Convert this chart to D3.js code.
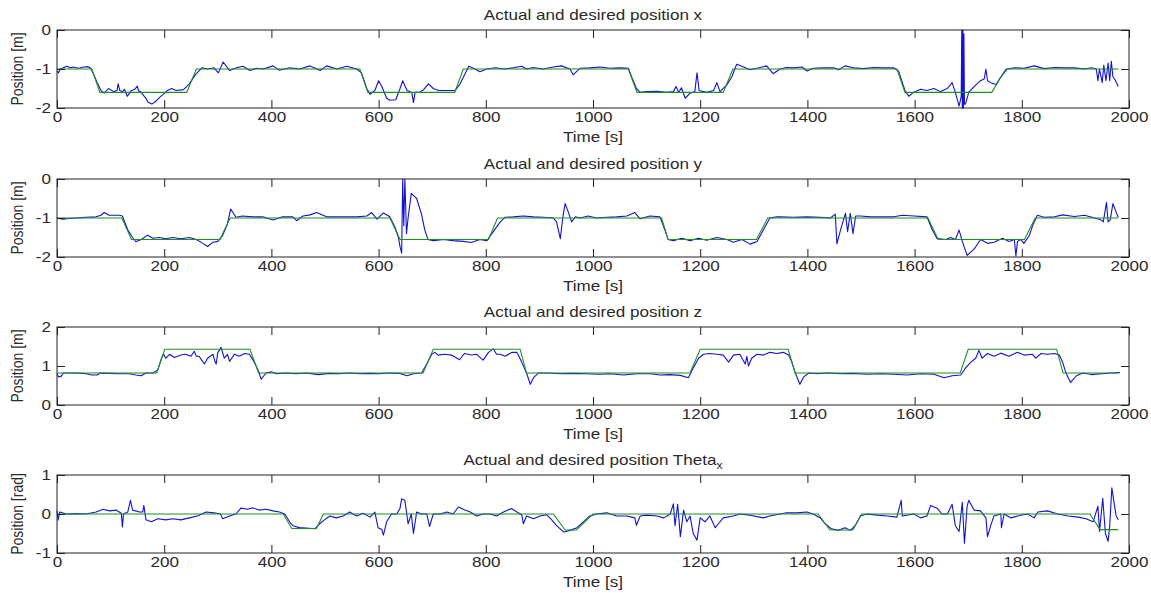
<!DOCTYPE html>
<html>
<head>
<meta charset="utf-8">
<script src="https://cdn.jsdelivr.net/npm/d3@7"></script>
<style>
body{margin:0;background:#fff}
text{font-family:"Liberation Sans",Arial,sans-serif;fill:#2a2a2a}
</style>
</head>
<body>
<script>
// tick labels of the shared time axis
var timeTicks=[0,200,400,600,800,1000,1200,1400,1600,1800,2000]

var titles=["Actual and desired position x","Actual and desired position y","Actual and desired position z","Actual and desired position Theta"]
var yLabels=["Position [m]","Position [m]","Position [m]","Position [rad]"]
var yDomains=[[-2,0],[-2,0],[0,2],[-1,1]]
var yTicks=[[0,-1,-2],[0,-1,-2],[0,1,2],[-1,0,1]]

// desired (green) trajectories, [time, value]
var desiredX=[[0,-1],[65,-1],[80,-1.6],[242,-1.6],[260,-1],[565,-1],[580,-1.6],[742,-1.6],[758,-1],[1066,-1],[1082,-1.6],[1243,-1.6],[1261,-1],[1567,-1],[1582,-1.6],[1744,-1.6],[1770,-1],[1980,-1]]
var desiredY=[[0,-1],[121,-1],[139,-1.55],[304,-1.55],[323,-1],[621,-1],[640,-1.55],[805,-1.55],[822,-1],[1128,-1],[1140,-1.55],[1305,-1.55],[1326,-1],[1625,-1],[1644,-1.55],[1805,-1.55],[1825,-1],[1980,-1]]
var desiredZ=[[0,0.82],[186,0.82],[201,1.43],[360,1.43],[376,0.82],[683,0.82],[702,1.43],[864,1.43],[876,0.82],[1181,0.82],[1200,1.43],[1364,1.43],[1377,0.82],[1685,0.82],[1700,1.43],[1865,1.43],[1877,0.82],[1980,0.82]]
var desiredTheta=[[0,0],[422,0],[438,-0.37],[484,-0.37],[497,0],[926,0],[948,-0.41],[969,-0.41],[1000,0],[1420,0],[1442,-0.41],[1485,-0.41],[1501,0],[1927,0],[1946,-0.4],[1980,-0.4]]

// actual (blue) trajectories, [time, value]
var actualX=[[0,-1.05],[3,-1.1],[6,-1.0],[12,-0.97],[18,-0.93],[25,-0.97],[30,-0.95],[40,-0.98],[50,-0.95],[58,-0.94],[63,-0.98],[68,-1.12],[75,-1.35],[82,-1.55],[88,-1.62],[96,-1.5],[106,-1.58],[112,-1.55],[114,-1.38],[117,-1.55],[122,-1.58],[126,-1.52],[131,-1.7],[139,-1.55],[145,-1.52],[150,-1.44],[152,-1.56],[156,-1.58],[164,-1.72],[170,-1.85],[177,-1.9],[185,-1.82],[192,-1.72],[198,-1.65],[206,-1.55],[214,-1.5],[222,-1.55],[236,-1.53],[247,-1.38],[258,-1.15],[270,-0.97],[281,-1.0],[293,-0.97],[301,-1.1],[310,-0.82],[322,-1.04],[335,-0.97],[347,-0.93],[360,-1.04],[372,-0.98],[385,-1.0],[403,-0.92],[415,-1.03],[434,-0.97],[453,-1.0],[472,-0.92],[491,-1.04],[503,-0.92],[522,-1.0],[541,-0.93],[559,-1.0],[568,-1.1],[578,-1.5],[584,-1.65],[593,-1.55],[600,-1.3],[606,-1.45],[615,-1.75],[621,-1.8],[632,-1.79],[640,-1.5],[645,-1.3],[653,-1.55],[662,-1.6],[665,-1.86],[668,-1.6],[676,-1.6],[684,-1.53],[693,-1.38],[702,-1.5],[712,-1.55],[727,-1.55],[743,-1.55],[752,-1.38],[762,-1.1],[768,-0.93],[777,-0.98],[789,-1.07],[802,-1.0],[818,-0.97],[833,-1.0],[851,-0.97],[867,-0.93],[876,-1.0],[889,-0.96],[907,-1.0],[926,-0.95],[941,-0.92],[957,-1.0],[963,-1.15],[976,-0.98],[994,-0.97],[1013,-0.95],[1032,-0.98],[1050,-0.97],[1066,-0.98],[1072,-1.2],[1081,-1.5],[1088,-1.6],[1100,-1.58],[1119,-1.57],[1138,-1.6],[1150,-1.58],[1155,-1.45],[1160,-1.6],[1165,-1.48],[1172,-1.75],[1181,-1.62],[1190,-1.58],[1194,-1.1],[1198,-1.55],[1212,-1.6],[1225,-1.55],[1231,-1.35],[1237,-1.58],[1250,-1.4],[1259,-1.2],[1268,-0.88],[1281,-0.95],[1293,-1.02],[1312,-0.96],[1324,-0.92],[1336,-1.12],[1349,-1.0],[1361,-0.96],[1374,-0.97],[1390,-0.95],[1399,-1.05],[1411,-0.98],[1430,-0.97],[1449,-0.97],[1458,-1.02],[1470,-0.92],[1486,-0.97],[1505,-0.99],[1523,-0.96],[1542,-0.97],[1561,-0.97],[1570,-1.05],[1576,-1.3],[1582,-1.55],[1589,-1.7],[1598,-1.6],[1611,-1.52],[1623,-1.55],[1636,-1.5],[1648,-1.58],[1661,-1.5],[1670,-1.35],[1676,-1.6],[1683,-1.95],[1687,-1.7],[1688,0],[1689,-2],[1690,0],[1691,-2],[1692,-0.1],[1693,-1.9],[1695,-1.9],[1701,-1.6],[1711,-1.45],[1723,-1.3],[1730,-1.25],[1733,-1.0],[1736,-1.3],[1742,-1.35],[1752,-1.4],[1761,-1.2],[1773,-1.0],[1786,-0.97],[1804,-0.98],[1823,-0.92],[1842,-0.99],[1861,-0.96],[1880,-0.97],[1898,-0.97],[1917,-1.0],[1930,-0.97],[1939,-1.0],[1942,-1.3],[1945,-1.0],[1950,-1.35],[1953,-0.9],[1957,-1.3],[1961,-0.85],[1964,-1.3],[1967,-0.8],[1970,-1.2],[1975,-1.3],[1980,-1.45]]
var actualY=[[0,-1.0],[10,-1.03],[18,-1.02],[36,-1.0],[54,-0.98],[73,-0.97],[82,-0.93],[88,-0.86],[97,-0.93],[116,-0.93],[122,-0.95],[132,-1.3],[141,-1.5],[147,-1.61],[157,-1.55],[169,-1.44],[179,-1.52],[191,-1.5],[203,-1.53],[216,-1.5],[231,-1.53],[247,-1.5],[260,-1.55],[272,-1.65],[281,-1.73],[291,-1.62],[300,-1.6],[309,-1.45],[318,-1.15],[324,-0.77],[334,-0.98],[346,-0.95],[365,-0.97],[384,-0.97],[403,-1.05],[421,-0.97],[440,-0.97],[447,-1.07],[459,-0.95],[472,-0.92],[484,-0.86],[503,-0.97],[521,-0.97],[540,-0.97],[559,-0.97],[578,-0.95],[587,-0.86],[597,-1.03],[609,-0.87],[621,-0.97],[631,-1.25],[637,-1.5],[640,-1.74],[643,-1.9],[645,0],[647,-1.2],[649,0],[652,-1.4],[655,-1.0],[661,-0.37],[671,-0.5],[680,-0.9],[686,-1.3],[692,-1.55],[702,-1.58],[721,-1.55],[739,-1.58],[758,-1.6],[773,-1.63],[789,-1.55],[802,-1.58],[814,-1.35],[827,-1.1],[836,-0.98],[851,-0.97],[870,-0.95],[889,-0.97],[907,-0.98],[926,-1.0],[932,-1.1],[939,-1.53],[944,-0.95],[948,-0.63],[954,-0.85],[960,-1.1],[967,-0.97],[976,-1.0],[991,-0.95],[1007,-1.0],[1026,-0.98],[1044,-0.97],[1063,-0.95],[1078,-0.86],[1088,-1.02],[1106,-0.95],[1125,-0.97],[1134,-1.3],[1140,-1.55],[1150,-1.58],[1166,-1.52],[1181,-1.58],[1197,-1.52],[1212,-1.57],[1231,-1.5],[1250,-1.55],[1262,-1.62],[1278,-1.55],[1293,-1.67],[1306,-1.6],[1318,-1.3],[1330,-1.0],[1343,-0.97],[1349,-0.97],[1374,-0.98],[1399,-0.97],[1424,-0.98],[1443,-1.0],[1452,-0.9],[1455,-1.66],[1460,-1.4],[1464,-1.2],[1471,-0.88],[1475,-1.35],[1480,-0.88],[1485,-1.4],[1490,-0.95],[1499,-0.95],[1518,-0.97],[1536,-0.97],[1561,-0.97],[1577,-0.93],[1599,-0.95],[1623,-0.97],[1633,-1.3],[1642,-1.53],[1658,-1.55],[1667,-1.5],[1676,-1.55],[1683,-1.31],[1689,-1.6],[1698,-1.96],[1711,-1.8],[1723,-1.55],[1736,-1.65],[1748,-1.62],[1764,-1.52],[1776,-1.6],[1786,-1.55],[1789,-1.97],[1792,-1.6],[1798,-1.55],[1804,-1.65],[1814,-1.45],[1820,-1.2],[1829,-0.93],[1842,-0.98],[1861,-0.97],[1876,-0.92],[1898,-0.96],[1917,-0.93],[1936,-1.0],[1948,-1.05],[1952,-1.1],[1958,-0.6],[1961,-1.1],[1965,-1.05],[1970,-0.63],[1976,-0.85],[1980,-0.98]]
var actualZ=[[0,0.79],[3,0.72],[8,0.74],[12,0.82],[18,0.82],[36,0.82],[54,0.8],[65,0.77],[75,0.77],[80,0.82],[98,0.81],[116,0.8],[135,0.8],[147,0.77],[157,0.75],[166,0.82],[179,0.82],[188,0.9],[195,1.2],[199,1.3],[203,1.2],[210,1.3],[219,1.22],[231,1.28],[240,1.3],[250,1.25],[256,1.38],[260,1.25],[265,1.25],[270,1.15],[275,1.05],[281,1.2],[291,1.3],[295,1.1],[297,1.05],[300,1.35],[303,1.4],[306,1.48],[312,1.2],[318,1.3],[322,1.12],[331,1.3],[340,1.25],[350,1.32],[359,1.3],[368,1.1],[375,0.9],[381,0.66],[390,0.82],[400,0.85],[409,0.8],[428,0.82],[446,0.8],[465,0.82],[487,0.78],[508,0.81],[527,0.8],[546,0.82],[565,0.8],[583,0.81],[602,0.8],[621,0.82],[640,0.81],[653,0.75],[665,0.8],[680,0.82],[690,1.05],[699,1.3],[705,1.35],[711,1.28],[724,1.3],[736,1.28],[751,1.16],[760,1.32],[773,1.28],[783,1.3],[795,1.15],[805,1.35],[814,1.44],[820,1.3],[827,1.3],[836,1.25],[849,1.35],[858,1.35],[867,1.1],[876,0.82],[883,0.53],[889,0.7],[898,0.82],[914,0.82],[939,0.8],[963,0.81],[988,0.8],[1010,0.79],[1032,0.8],[1057,0.77],[1082,0.8],[1107,0.8],[1125,0.77],[1144,0.78],[1163,0.76],[1178,0.7],[1187,0.95],[1197,1.2],[1206,1.3],[1218,1.32],[1231,1.3],[1243,1.28],[1253,1.1],[1262,1.28],[1274,1.3],[1280,1.15],[1284,1.05],[1287,1.25],[1290,1.0],[1296,1.2],[1306,1.3],[1318,1.28],[1330,1.35],[1343,1.32],[1355,1.35],[1365,1.28],[1371,1.1],[1378,0.8],[1386,0.53],[1393,0.72],[1403,0.82],[1418,0.8],[1437,0.82],[1462,0.8],[1486,0.81],[1511,0.79],[1536,0.8],[1561,0.79],[1586,0.77],[1611,0.8],[1636,0.79],[1655,0.7],[1670,0.75],[1686,0.77],[1695,0.95],[1705,1.1],[1714,1.2],[1720,1.4],[1726,1.2],[1736,1.32],[1748,1.25],[1761,1.33],[1776,1.25],[1792,1.35],[1804,1.28],[1820,1.3],[1826,1.2],[1836,1.32],[1848,1.3],[1861,1.32],[1870,1.28],[1876,1.1],[1883,0.8],[1891,0.58],[1902,0.75],[1914,0.82],[1930,0.78],[1949,0.8],[1967,0.82],[1983,0.83]]
var actualTheta=[[0,0.09],[2,-0.16],[5,0.05],[18,0.0],[36,0.01],[54,0.0],[73,0.05],[86,0.12],[98,0.08],[110,0.1],[120,0.02],[122,-0.33],[124,0.0],[132,0.05],[137,0.35],[141,0.1],[154,0.05],[160,0.05],[162,0.22],[166,-0.15],[176,-0.2],[188,-0.12],[203,-0.15],[216,-0.12],[231,-0.15],[247,-0.1],[262,-0.05],[278,0.05],[293,0.03],[305,0.0],[309,-0.12],[322,-0.05],[334,0.0],[343,0.15],[356,0.12],[365,0.16],[377,0.1],[390,0.12],[403,0.08],[415,0.05],[425,0.0],[434,-0.2],[440,-0.3],[452,-0.35],[465,-0.36],[481,-0.38],[490,-0.25],[499,-0.15],[509,-0.05],[521,-0.1],[534,-0.05],[546,0.05],[559,-0.05],[571,0.02],[584,-0.08],[593,0.05],[599,-0.35],[606,-0.4],[609,-0.54],[615,-0.2],[624,0.0],[634,0.0],[640,0.15],[643,0.39],[649,0.35],[655,-0.25],[661,0.0],[665,-0.5],[671,0.05],[680,0.0],[690,0.0],[695,-0.32],[702,0.0],[715,0.0],[727,0.05],[739,0.0],[749,0.18],[761,0.1],[771,0.05],[783,-0.05],[795,0.0],[808,0.0],[820,-0.05],[833,0.05],[848,0.14],[858,0.05],[867,-0.02],[870,-0.25],[876,-0.05],[889,-0.12],[901,-0.05],[914,-0.02],[923,-0.15],[932,-0.3],[945,-0.46],[957,-0.42],[970,-0.35],[982,-0.2],[994,-0.05],[1007,0.0],[1026,0.03],[1044,-0.05],[1063,-0.05],[1078,-0.1],[1081,-0.29],[1088,-0.05],[1100,-0.03],[1119,-0.05],[1132,-0.1],[1144,0.0],[1150,0.26],[1153,-0.3],[1158,0.25],[1163,-0.58],[1169,0.1],[1175,-0.2],[1181,-0.05],[1187,-0.5],[1194,-0.67],[1200,-0.1],[1209,-0.2],[1218,-0.05],[1228,-0.35],[1234,-0.25],[1243,-0.1],[1262,-0.05],[1274,0.0],[1293,-0.03],[1318,-0.1],[1330,-0.05],[1349,0.0],[1361,0.03],[1380,0.03],[1399,0.05],[1411,0.0],[1424,-0.1],[1433,-0.25],[1445,-0.38],[1458,-0.42],[1470,-0.35],[1480,-0.42],[1489,-0.3],[1499,-0.05],[1511,0.0],[1530,-0.03],[1549,-0.05],[1567,-0.08],[1575,0.35],[1577,-0.05],[1599,0.0],[1611,-0.1],[1623,-0.05],[1630,0.22],[1642,0.15],[1651,0.0],[1661,0.0],[1670,0.25],[1676,-0.3],[1683,-0.45],[1689,0.3],[1693,-0.75],[1698,0.2],[1701,0.35],[1711,0.1],[1723,0.08],[1733,-0.1],[1736,-0.58],[1742,-0.3],[1748,-0.05],[1761,0.0],[1762,-0.35],[1767,0.0],[1780,-0.1],[1798,-0.03],[1811,0.0],[1823,-0.1],[1830,0.05],[1848,0.08],[1867,0.0],[1886,-0.05],[1905,-0.08],[1920,-0.12],[1933,-0.2],[1942,0.2],[1945,-0.45],[1951,0.4],[1956,-0.5],[1961,-0.7],[1964,-0.3],[1968,0.67],[1972,0.3],[1976,-0.05],[1980,-0.15]]

var actuals=[actualX,actualY,actualZ,actualTheta]
var desireds=[desiredX,desiredY,desiredZ,desiredTheta]

var screen={width:1151,height:593}
var margins={left:57,right:22}
var plotH=78
var tops=[30,179,327,475]
var stretch=1.22   // the figure is stretched sideways, text too
var fontSize=14

var svg=d3.select("body").append("svg").attr("width",screen.width).attr("height",screen.height)
svg.append("rect").attr("width",screen.width).attr("height",screen.height).attr("fill","#fff")

var xScale=d3.scaleLinear().domain([0,2000]).range([margins.left,screen.width-margins.right])
var plain=function(d){return String(d)}

var drawPanel=function(i){
  var top=tops[i]
  var yScale=d3.scaleLinear().domain(yDomains[i]).range([top+plotH,top])
  var g=svg.append("g").attr("class","panel")

  // lines
  var line=d3.line().x(function(d){return xScale(d[0])}).y(function(d){return yScale(d[1])})
  g.append("path").datum(actuals[i]).attr("d",line)
   .attr("fill","none").attr("stroke","#1212d4").attr("stroke-width",1.1).attr("stroke-linejoin","round")
  g.append("path").datum(desireds[i]).attr("d",line)
   .attr("fill","none").attr("stroke","#1f8f1f").attr("stroke-width",1.1)

  // axes, ticks inside like matlab
  var bottom=g.append("g").attr("transform","translate(0,"+(top+plotH)+")")
     .call(d3.axisBottom(xScale).tickValues(timeTicks).tickSize(-8).tickSizeOuter(0).tickPadding(4).tickFormat(plain))
  var topAx=g.append("g").attr("transform","translate(0,"+top+")")
     .call(d3.axisTop(xScale).tickValues(timeTicks).tickSize(-8).tickSizeOuter(0).tickFormat(""))
  var left=g.append("g").attr("transform","translate("+margins.left+",0)")
     .call(d3.axisLeft(yScale).tickValues(yTicks[i]).tickSize(-8).tickSizeOuter(0).tickPadding(6).tickFormat(plain))
  var right=g.append("g").attr("transform","translate("+(screen.width-margins.right)+",0)")
     .call(d3.axisRight(yScale).tickValues(yTicks[i]).tickSize(-8).tickSizeOuter(0).tickFormat(""))
  ;[bottom,topAx,left,right].forEach(function(a){
    a.select(".domain").remove()
    a.selectAll(".tick line").attr("stroke","#222")
    a.selectAll(".tick text").attr("font-size",fontSize).attr("font-family","Liberation Sans, Arial, sans-serif")
     .attr("fill","#2a2a2a").attr("transform","scale("+stretch+",1)")
  })
  left.selectAll(".tick text").attr("x",-6/stretch)

  g.append("rect").attr("x",margins.left).attr("y",top)
   .attr("width",screen.width-margins.right-margins.left).attr("height",plotH)
   .attr("fill","none").attr("stroke","#222").attr("stroke-width",1)

  var cx=(margins.left+screen.width-margins.right)/2
  var t=g.append("text").attr("text-anchor","middle").attr("font-size",fontSize)
     .attr("transform","translate("+cx+","+(top-10)+") scale("+stretch+",1)")
     .text(titles[i])
  if(i==3){
    t.append("tspan").attr("font-size",10).attr("dy",4).text("x")
  }
  g.append("text").attr("text-anchor","middle").attr("font-size",fontSize)
   .attr("transform","translate("+cx+","+(top+plotH+34)+") scale("+stretch+",1)")
   .text("Time [s]")
  g.append("text").attr("text-anchor","middle").attr("font-size",fontSize)
   .attr("transform","translate(23,"+(top+plotH/2)+") scale("+stretch+",1) rotate(-90)")
   .text(yLabels[i])
}

for(var i=0;i<4;i++){drawPanel(i)}
</script>
</body>
</html>
